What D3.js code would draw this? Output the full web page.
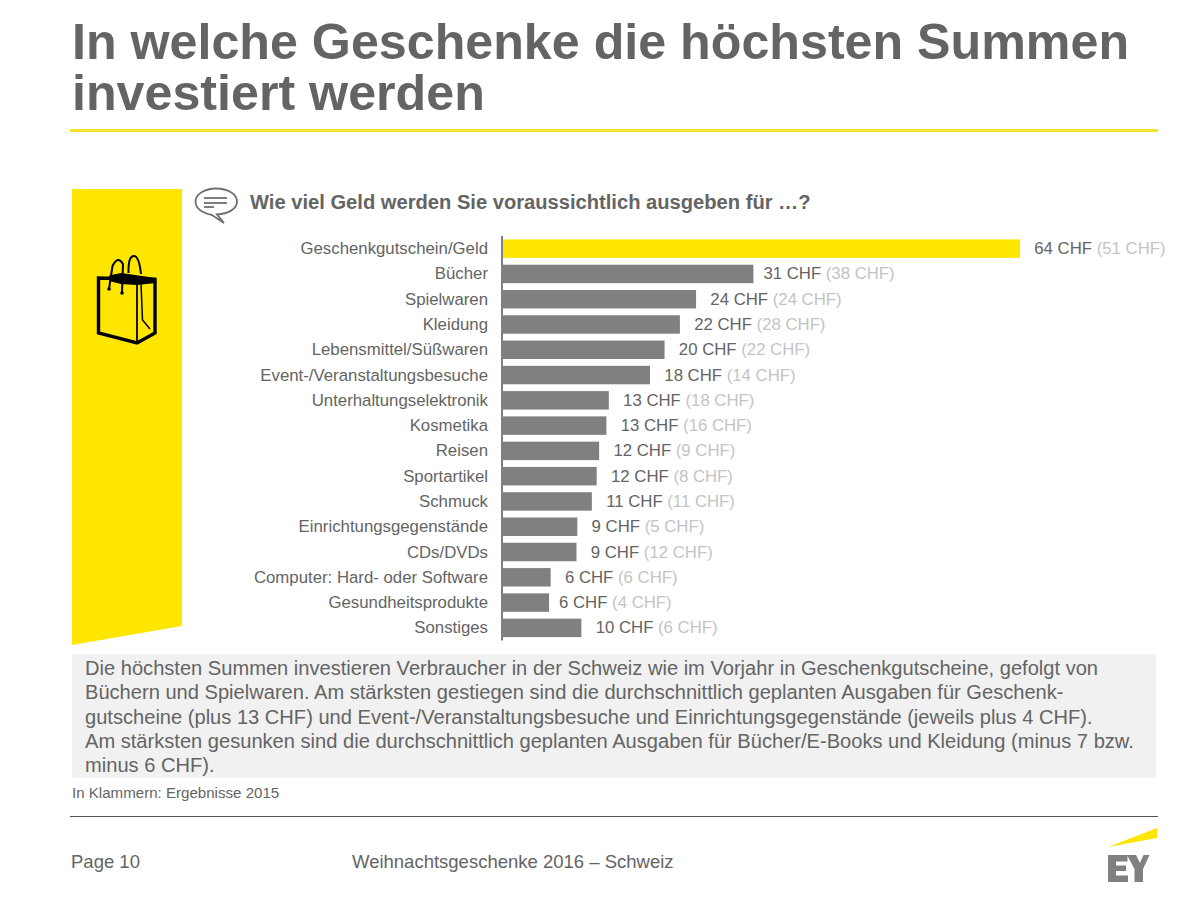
<!DOCTYPE html>
<html><head><meta charset="utf-8">
<script src="https://cdn.jsdelivr.net/npm/d3@7"></script>
<style>html,body{margin:0;padding:0;background:#fff;overflow:hidden}svg{display:block;font-family:"Liberation Sans",Arial,sans-serif}</style>
</head><body><svg id="c" width="1202" height="902"></svg>
<script>
const categories=["Geschenkgutschein/Geld","Bücher","Spielwaren","Kleidung","Lebensmittel/Süßwaren","Event-/Veranstaltungsbesuche","Unterhaltungselektronik","Kosmetika","Reisen","Sportartikel","Schmuck","Einrichtungsgegenstände","CDs/DVDs","Computer: Hard- oder Software","Gesundheitsprodukte","Sonstiges"];
const values2016=[64,31,23.9,21.9,20,18.2,13.1,12.8,11.9,11.6,11,9.2,9.1,5.9,5.7,9.7];
const labels2016=[64,31,24,22,20,18,13,13,12,12,11,9,9,6,6,10];
const labels2015=[51,38,24,28,22,14,18,16,9,8,11,5,12,6,4,6];
const titleLines=["In welche Geschenke die höchsten Summen","investiert werden"];
const question="Wie viel Geld werden Sie voraussichtlich ausgeben für …?";
const bodyLines=["Die höchsten Summen investieren Verbraucher in der Schweiz wie im Vorjahr in Geschenkgutscheine, gefolgt von","Büchern und Spielwaren. Am stärksten gestiegen sind die durchschnittlich geplanten Ausgaben für Geschenk-","gutscheine (plus 13 CHF) und Event-/Veranstaltungsbesuche und Einrichtungsgegenstände (jeweils plus 4 CHF).","Am stärksten gesunken sind die durchschnittlich geplanten Ausgaben für Bücher/E-Books und Kleidung (minus 7 bzw.","minus 6 CHF)."];
const footnote="In Klammern: Ergebnisse 2015";
const pageLabel="Page 10";
const footerTitle="Weihnachtsgeschenke 2016 – Schweiz";

const dark="#646464",yellow="#ffe600",barGrey="#808080",light="#c4c4c4";
const svg=d3.select("#c");
function txt(x,y,s,size,fill,opts={}){return svg.append("text").attr("x",x).attr("y",y).attr("font-size",size).attr("fill",fill).attr("font-weight",opts.w||"normal").attr("text-anchor",opts.a||"start").text(s)}

// title: one text element with two lines
const title=svg.append("text").attr("font-size",50.2).attr("font-weight","bold").attr("fill",dark);
titleLines.forEach((t,i)=>title.append("tspan").attr("x",72).attr("y",59+i*51).text(t));
svg.append("rect").attr("x",70).attr("y",129).attr("width",1088).attr("height",3).attr("fill","#f5e12e");

// yellow ribbon
svg.append("path").attr("d","M72,189H182V626L72,645Z").attr("fill",yellow);

// bag icon
const bag=svg.append("g").attr("fill","none").attr("stroke","#000");
bag.append("path").attr("d","M98.500,278V333L137,343L155,333V279.500L98.500,278Z").attr("stroke-width",3.4);
bag.append("path").attr("d","M109,275.500L121,273L156,278V283L137,285L121,284L109,281Z").attr("fill","#000").attr("stroke","none");
bag.append("path").attr("d","M137,283V342").attr("stroke-width",1.8);
bag.append("path").attr("d","M141,283L142.500,320L150,329").attr("stroke-width",1.5);
bag.append("path").attr("d","M109,289L112.500,266Q118,255 123,264L122,293").attr("stroke-width",2);
bag.append("path").attr("d","M128.500,273Q128,256 134,256Q139,256 141,274").attr("stroke-width",2);
bag.append("circle").attr("cx",109).attr("cy",289).attr("r",1.8).attr("fill","#000").attr("stroke","none");
bag.append("circle").attr("cx",122).attr("cy",293).attr("r",1.8).attr("fill","#000").attr("stroke","none");

// speech bubble
const sb=svg.append("g").attr("fill","none").attr("stroke","#707070");
sb.append("path").attr("d","M212,215C203,213 195.500,209 195.500,201.500C195.500,194 205,188.500 216,188.500C228,188.500 237,194 237,201.500C237,209 228,214 217,214.500L224,223Z").attr("stroke-width",1.8).attr("fill","#fff");
[[204,227,198],[204,227,203],[204,214,207]].forEach(d=>sb.append("line").attr("x1",d[0]).attr("x2",d[1]).attr("y1",d[2]).attr("y2",d[2]).attr("stroke-width",1.8));
txt(250,209,question,20.15,dark,{w:"bold"});

// chart
const x=d3.scaleLinear().domain([0,64]).range([503,1020]);
const y=d3.scaleBand().domain(categories).range([236,640.500]).paddingInner(0.27).paddingOuter(0.135);
const rows=svg.append("g").selectAll("g").data(categories).join("g");
rows.append("rect").attr("x",x(0)).attr("y",d=>y(d)).attr("height",y.bandwidth())
 .attr("width",(d,i)=>x(values2016[i])-x(0)).attr("fill",(d,i)=>i===0?yellow:barGrey);
rows.append("text").attr("x",488).attr("y",d=>y(d)+y.bandwidth()/2+5.500).attr("text-anchor","end").attr("font-size",16.8).attr("fill",dark).text(d=>d);
rows.each(function(d,i){
  const gap=(d==="Bücher"||d==="Gesundheitsprodukte")?10:14.3;
  const t=d3.select(this).append("text").attr("x",x(values2016[i])+gap).attr("y",y(d)+y.bandwidth()/2+5.500).attr("font-size",16.75);
  t.append("tspan").attr("fill",dark).text(labels2016[i]+" CHF ");
  t.append("tspan").attr("fill",light).text("("+labels2015[i]+" CHF)");
});
const axis=d3.axisLeft(y).tickSize(0).tickFormat("");
svg.append("g").attr("transform","translate(502,0)").call(axis).call(g=>g.select(".domain").attr("stroke",barGrey).attr("stroke-width",2).attr("d","M0,236V640.500"));

// commentary
svg.append("rect").attr("x",72).attr("y",654).attr("width",1084).attr("height",124).attr("fill","#f1f1f1");
bodyLines.forEach((t,i)=>txt(85,675+i*24.300,t,20.1,dark));
txt(72,797.5,footnote,15.1,dark);

// footer
svg.append("rect").attr("x",70).attr("y",816).attr("width",1088).attr("height",1).attr("fill","#555");
txt(71,868,pageLabel,18.5,dark);
txt(352,868,footerTitle,18.5,dark);
svg.append("path").attr("d","M1108,847L1157,828V838Z").attr("fill",yellow);
const ey=svg.append("g").attr("fill","#808080");
ey.append("path").attr("d","M1108,855H1127.500V861.500H1116V865.500H1126V871H1116V875.500H1128V882H1108Z");
ey.append("path").attr("d","M1127,855H1136L1140,863L1143.500,855H1149.500L1143,869V882H1134.500V869Z");
</script></body></html>
